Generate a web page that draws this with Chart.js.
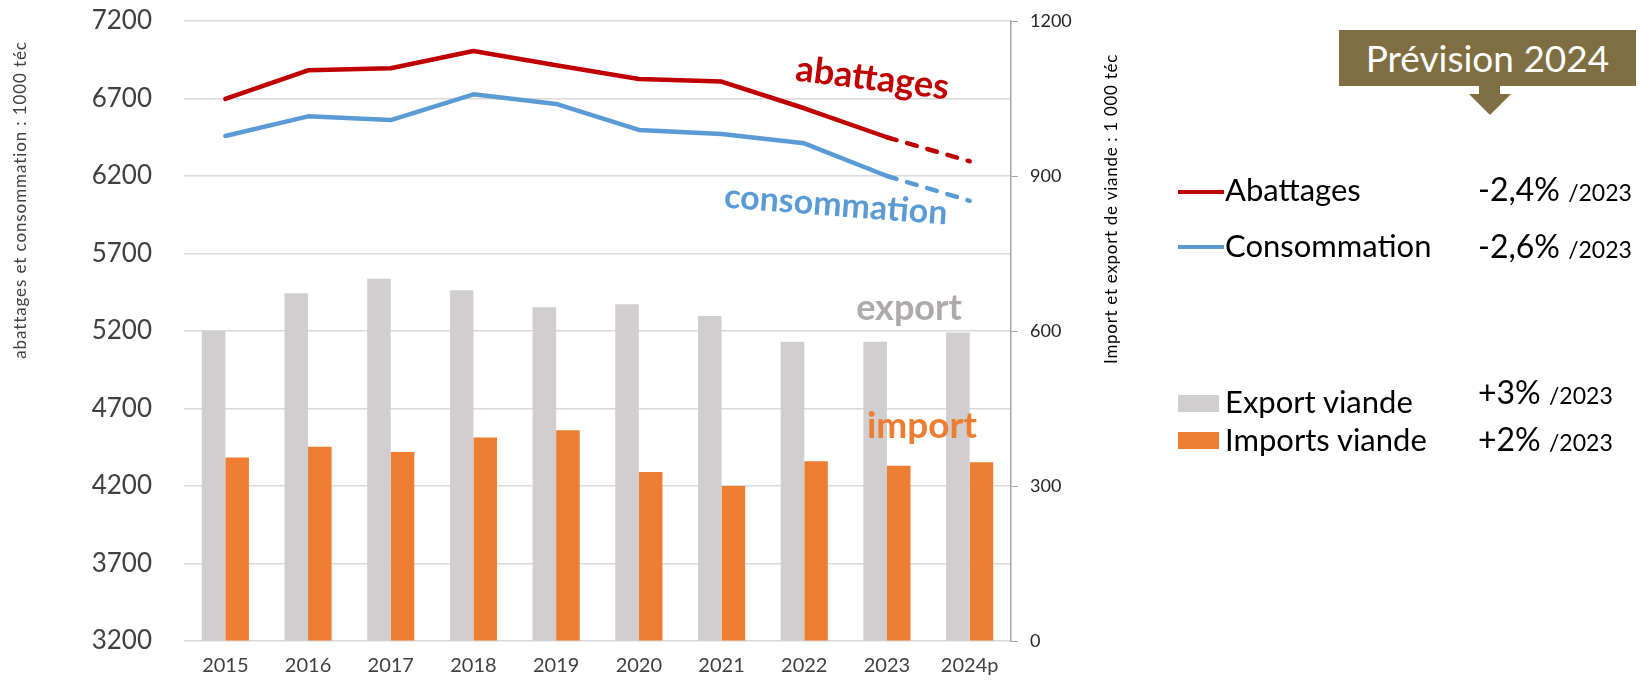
<!DOCTYPE html>
<html lang="fr">
<head>
<meta charset="utf-8">
<title>Abattages, consommation et échanges de viande</title>
<script src="https://cdn.jsdelivr.net/npm/chart.js@4.4.1/dist/chart.umd.min.js"></script>
<style>
  html, body { margin: 0; padding: 0; background: #fff; }
  #wrap { position: relative; width: 1640px; height: 680px; font-family: Lato, "Open Sans", sans-serif; }
  #chart { position: absolute; left: 0; top: 0; }
  .t { position: absolute; line-height: 1; white-space: nowrap; transform: translateY(-50%); color: #000; }
  .sw { position: absolute; }
  .small { font-size: 23px; }
  #prev { position: absolute; left: 1339px; top: 30px; width: 297px; height: 56px; background: #7F6E41;
          color: #fff; font-size: 37px; line-height: 56px; text-align: center; }
  #arrow { position: absolute; left: 1460px; top: 85px; }
</style>
</head>
<body>
<div id="wrap">
  <canvas id="chart" width="1640" height="680"></canvas>
  <div id="prev">Prévision 2024</div>
  <svg id="arrow" width="60" height="32"><polygon points="19,0 40,0 40,9 51,9 30,30 9,9 19,9" fill="#7F6E41"/></svg>
  <div id="legend"></div>
</div>
<script>
// -----------------------------
// Data
// -----------------------------
const years = ["2015", "2016", "2017", "2018", "2019", "2020", "2021", "2022", "2023", "2024p"];
const abattages = [6697, 6882, 6895, 7006, 6915, 6826, 6809, 6637, 6450, 6295];
const consommation = [6458, 6585, 6561, 6727, 6665, 6497, 6471, 6411, 6200, 6040];
const exportViande = [600, 673, 701, 679, 646, 652, 629, 579, 579, 597];
const importViande = [355, 376, 366, 394, 408, 327, 300, 348, 339, 346];
const leftTicks = [3200, 3700, 4200, 4700, 5200, 5700, 6200, 6700, 7200];
const rightTicks = [0, 300, 600, 900, 1200];
const evolutions = ["-2,4%", "-2,6%", "+3%", "+2%"];

const FONT = 'Lato, "Open Sans", sans-serif';
const lastIdx = years.length - 1;

// -----------------------------
// Labels drawn inside the plot + axis titles
// -----------------------------
const inPlotText = {
  id: "inPlotText",
  afterDraw(chart) {
    const c = chart.ctx;
    const put = (txt, x, y, size, color, angle, bold, base, spacing) => {
      c.save();
      c.translate(x, y);
      c.rotate(angle * Math.PI / 180);
      c.font = (bold ? "bold " : "") + size + "px " + FONT;
      c.fillStyle = color;
      c.textAlign = "center";
      c.textBaseline = base || "alphabetic";
      if (spacing) c.letterSpacing = spacing;
      c.fillText(txt, 0, 0);
      c.restore();
    };
    put("abattages", 871, 90, 36, "#C00000", 7, true);
    put("consommation", 835, 216, 34, "#5B9BD5", 4.4, true);
    put("export", 909, 320, 36, "#AEAAAA", 0, true);
    put("import", 922, 438, 37, "#ED7D31", 0, true);
    put("abattages et consommation : 1000 téc", 21, 200, 17, "#404040", -90, false, "middle", "0.9px");
    put("Import et export de viande : 1 000 téc", 1112, 209, 17, "#000", -90, false, "middle", "0.7px");
  }
};

// -----------------------------
// Chart
// -----------------------------
const dashLast = ctx => ctx.p1DataIndex === lastIdx ? [10, 11] : undefined;
const plain = v => String(v);

const chart = new Chart(document.getElementById("chart"), {
  data: {
    labels: years,
    datasets: [
      {
        type: "line", label: "Abattages", data: abattages, yAxisID: "yLeft",
        borderColor: "#C00000", borderWidth: 4.5, pointRadius: 0, tension: 0,
        borderCapStyle: "round", borderJoinStyle: "round",
        segment: { borderDash: dashLast }, order: 0
      },
      {
        type: "line", label: "Consommation", data: consommation, yAxisID: "yLeft",
        borderColor: "#5B9BD5", borderWidth: 4.5, pointRadius: 0, tension: 0,
        borderCapStyle: "round", borderJoinStyle: "round",
        segment: { borderDash: dashLast }, order: 0
      },
      {
        type: "bar", label: "Export viande", data: exportViande, yAxisID: "yRight",
        backgroundColor: "#D0CECE", barPercentage: 1, categoryPercentage: 0.57, order: 2
      },
      {
        type: "bar", label: "Imports viande", data: importViande, yAxisID: "yRight",
        backgroundColor: "#ED7D31", barPercentage: 1, categoryPercentage: 0.57, order: 2
      }
    ]
  },
  options: {
    responsive: false,
    animation: false,
    layout: { padding: { left: 0, top: 21, right: 559, bottom: 0 } },
    plugins: { legend: { display: false }, tooltip: { enabled: false } },
    scales: {
      x: {
        grid: { display: false, drawTicks: false },
        border: { display: false },
        ticks: { color: "#404040", font: { family: FONT, size: 20 }, padding: 13 },
        afterFit: s => { s.height = 39; }
      },
      yLeft: {
        position: "left",
        min: leftTicks[0], max: leftTicks[leftTicks.length - 1],
        ticks: {
          stepSize: leftTicks[1] - leftTicks[0], callback: plain,
          color: "#404040", font: { family: FONT, size: 26, lineHeight: 1 }, padding: 4
        },
        grid: { color: "#D9D9D9", lineWidth: 1.5, drawTicks: true, tickLength: 28, tickColor: "rgba(0,0,0,0)" },
        border: { display: false },
        afterFit: s => { s.width = 184; }
      },
      yRight: {
        position: "right",
        min: rightTicks[0], max: rightTicks[rightTicks.length - 1],
        ticks: {
          stepSize: rightTicks[1] - rightTicks[0], callback: plain,
          color: "#262626", font: { family: FONT, size: 18, lineHeight: 1 }, padding: 12
        },
        grid: { drawOnChartArea: false, drawTicks: true, tickLength: 7, color: "#A6A6A6" },
        border: { display: true, color: "#A6A6A6", width: 1.5 },
        afterFit: s => { s.width = 70; }
      }
    }
  },
  plugins: [inPlotText]
});

// -----------------------------
// Side legend (HTML)
// -----------------------------
const legend = document.getElementById("legend");
const rows = [
  { name: "Abattages", color: "#C00000", kind: "line", sy: 192, y: 189, ey: 189, evo: evolutions[0] },
  { name: "Consommation", color: "#5B9BD5", kind: "line", sy: 247, y: 245, ey: 246, evo: evolutions[1] },
  { name: "Export viande", color: "#D0CECE", kind: "box", sy: 403, y: 401, ey: 392, evo: evolutions[2] },
  { name: "Imports viande", color: "#ED7D31", kind: "box", sy: 440, y: 439, ey: 439, evo: evolutions[3] }
];
rows.forEach(r => {
  const sw = document.createElement("div");
  sw.className = "sw";
  sw.style.background = r.color;
  sw.style.left = "1178px";
  if (r.kind === "line") {
    sw.style.width = "46px"; sw.style.height = "4px"; sw.style.top = (r.sy - 2) + "px";
  } else {
    sw.style.width = "41px"; sw.style.height = "17px"; sw.style.top = (r.sy - 8) + "px";
  }
  legend.appendChild(sw);

  const name = document.createElement("div");
  name.className = "t";
  name.style.left = "1225px";
  name.style.top = r.y + "px";
  name.style.fontSize = "31px";
  name.textContent = r.name;
  legend.appendChild(name);

  const evo = document.createElement("div");
  evo.className = "t";
  evo.style.left = "1478px";
  evo.style.top = r.ey + "px";
  evo.style.fontSize = "32px";
  evo.innerHTML = r.evo + ' <span class="small">/2023</span>';
  legend.appendChild(evo);
});
</script>
</body>
</html>
